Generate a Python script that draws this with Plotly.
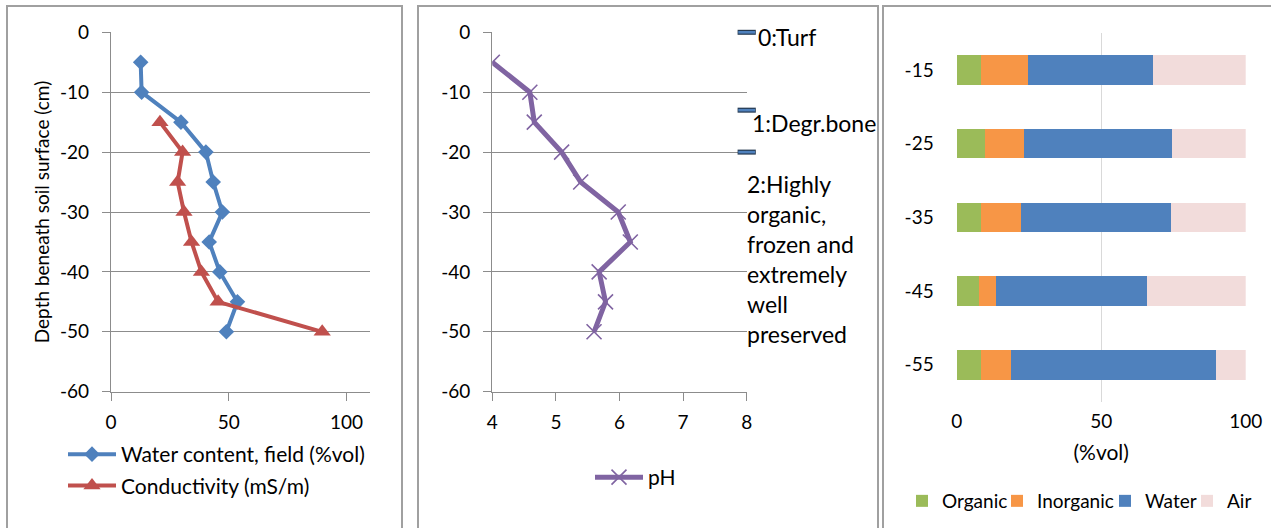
import plotly.graph_objects as go

W, H = 1271, 528

# ---- soil profile data ----
depth = [-5, -10, -15, -20, -25, -30, -35, -40, -45, -50]
water_content = [12.6, 13.0, 29.7, 40.3, 43.4, 47.3, 41.7, 46.2, 53.7, 49.0]
cond_depth = [-15, -20, -25, -30, -35, -40, -45, -50]
conductivity = [20.8, 30.4, 28.3, 31.0, 34.2, 38.4, 45.5, 89.7]
ph = [4.0, 4.59, 4.66, 5.09, 5.39, 5.98, 6.17, 5.68, 5.78, 5.60]

layer_depths = [0, -13, -20]
layer_x = [8, 8, 8]
layer_labels = ["0:Turf", "1:Degr.bone",
                "2:Highly<br>organic,<br>frozen and<br>extremely<br>well<br>preserved"]

comp_depths = ["-15", "-25", "-35", "-45", "-55"]
organic = [8.3, 9.9, 8.5, 7.6, 8.5]
inorganic = [16.5, 13.4, 13.6, 6.0, 10.2]
water = [43.2, 51.3, 52.1, 52.4, 70.9]
air = [32.0, 25.4, 25.8, 34.0, 10.4]

depth_ticks = [0, -10, -20, -30, -40, -50, -60]
depth_ticktext = ["0", "-10", "-20", "-30", "-40", "-50", "-60"]

FONT = "Lato, Carlito, Calibri, sans-serif"
FS = 19
FS_BIG = 21
GRID = "#8C8C8C"
BLUE, RED, PURPLE = "#4F81BD", "#C0504D", "#8064A2"


def px_x(p):
    return p / W


def px_y(p):
    return 1 - p / H


fig = go.Figure()

# Panel 1: water content and conductivity
fig.add_trace(go.Scatter(
    x=water_content, y=depth, mode="lines+markers", name="Water content, field (%vol)",
    line=dict(color=BLUE, width=4), marker=dict(symbol="diamond", size=12, color=BLUE),
    xaxis="x", yaxis="y", legend="legend", legendgroup="wc"))
fig.add_trace(go.Scatter(
    x=conductivity, y=cond_depth, mode="lines+markers", name="Conductivity (mS/m)",
    line=dict(color=RED, width=4), marker=dict(symbol="triangle-up", size=15, color=RED),
    xaxis="x", yaxis="y", legend="legend", legendgroup="ec"))

# Panel 2: pH
fig.add_trace(go.Scatter(
    x=ph, y=depth, mode="lines+markers", name="pH",
    line=dict(color=PURPLE, width=5),
    marker=dict(symbol="x-thin", size=15, color=PURPLE, line=dict(color=PURPLE, width=1.6)),
    xaxis="x2", yaxis="y2", legend="legend2"))

# layer boundaries drawn as short bars on the right edge of the pH panel
fig.add_trace(go.Scatter(
    x=layer_x, y=layer_depths, mode="markers", showlegend=False, cliponaxis=False,
    marker=dict(symbol="line-ew", size=13, line=dict(color="#24384F", width=5)),
    xaxis="x2", yaxis="y2", hoverinfo="skip"))
fig.add_trace(go.Scatter(
    x=layer_x, y=layer_depths, mode="markers", showlegend=False, cliponaxis=False,
    marker=dict(symbol="line-ew", size=12, line=dict(color=BLUE, width=2.6)),
    xaxis="x2", yaxis="y2", hoverinfo="skip"))

# Panel 3: volumetric composition, one legend box per component
components = [("Organic", organic, "#9BBB59", "legend3"),
              ("Inorganic", inorganic, "#F79646", "legend4"),
              ("Water", water, BLUE, "legend5"),
              ("Air", air, "#F2DCDB", "legend6")]
for name, vals, col, leg in components:
    fig.add_trace(go.Bar(
        x=vals, y=comp_depths, orientation="h", name=name,
        marker=dict(color=col, line=dict(width=0)),
        xaxis="x3", yaxis="y3", legend=leg))

ydom = [px_y(391.7), px_y(32.3)]
tickfont = dict(family=FONT, size=FS, color="#000000")

axis_common = dict(showline=True, linecolor=GRID, linewidth=1.3, ticks="outside",
                   ticklen=8, tickcolor=GRID, tickwidth=1.3, tickfont=tickfont,
                   zeroline=False, fixedrange=True)

legend_common = dict(xanchor="left", yanchor="top", orientation="h",
                     font=dict(family=FONT, size=FS), bgcolor="rgba(0,0,0,0)")

fig.update_layout(
    width=W, height=H, margin=dict(l=0, r=0, t=0, b=0, autoexpand=False),
    paper_bgcolor="white", plot_bgcolor="rgba(0,0,0,0)",
    font=dict(family=FONT, size=FS, color="#000000"),
    barmode="stack", bargap=0.6,
    xaxis=dict(domain=[px_x(111), px_x(370)], range=[0, 110], tickvals=[0, 50, 100],
               showgrid=False, anchor="y", ticklabelstandoff=5, **axis_common),
    yaxis=dict(domain=ydom, range=[-60, 0], tickvals=depth_ticks, ticktext=depth_ticktext,
               showgrid=True, gridcolor=GRID, gridwidth=1.3, anchor="x",
               ticklabelstandoff=9,
               title=dict(text="Depth beneath soil surface (cm)", standoff=5,
                          font=dict(family=FONT, size=FS)),
               **axis_common),
    xaxis2=dict(domain=[px_x(492.3), px_x(746.7)], range=[4, 8], dtick=1,
                showgrid=False, anchor="y2", ticklabelstandoff=5, **axis_common),
    yaxis2=dict(domain=ydom, range=[-60, 0], tickvals=depth_ticks, ticktext=depth_ticktext,
                showgrid=True, gridcolor=GRID, gridwidth=1.3, anchor="x2",
                ticklabelstandoff=9, **axis_common),
    xaxis3=dict(domain=[px_x(956.7), px_x(1245.7)], range=[0, 100], tickvals=[0, 50, 100],
                showgrid=True, gridcolor="#D9D9D9", gridwidth=1.3, showline=False,
                zeroline=False, ticks="", tickfont=tickfont, anchor="y3",
                ticklabelstandoff=6, fixedrange=True,
                title=dict(text="(%vol)", standoff=14, font=dict(family=FONT, size=21))),
    yaxis3=dict(domain=[px_y(401.7), px_y(33)], categoryorder="array",
                categoryarray=comp_depths, autorange="reversed", showline=False,
                showgrid=False, ticks="", tickfont=tickfont, anchor="x3",
                ticklabelstandoff=22, fixedrange=True),
    legend=dict(x=px_x(63), y=px_y(434), xanchor="left", yanchor="top",
                orientation="v", font=dict(family=FONT, size=FS_BIG),
                bgcolor="rgba(0,0,0,0)", tracegroupgap=1, itemwidth=48),
    legend2=dict(x=px_x(590), y=px_y(457), xanchor="left", yanchor="top",
                 orientation="h", font=dict(family=FONT, size=FS_BIG),
                 bgcolor="rgba(0,0,0,0)", itemwidth=48),
    legend3=dict(x=px_x(902), y=px_y(482), **legend_common),
    legend4=dict(x=px_x(997), y=px_y(482), **legend_common),
    legend5=dict(x=px_x(1105), y=px_y(482), **legend_common),
    legend6=dict(x=px_x(1187), y=px_y(482), **legend_common),
    showlegend=True,
)

# panel frames
for x0, x1 in [(7, 402), (418, 878), (883, 1290)]:
    fig.add_shape(type="rect", xref="paper", yref="paper",
                  x0=px_x(x0), x1=px_x(x1), y0=px_y(560), y1=px_y(6),
                  line=dict(color="#A0A0A0", width=2), fillcolor="rgba(0,0,0,0)",
                  layer="below")

label_shift = [(9, 11), (3, 3), (-2, -16)]
for xv, d, txt, (dx, dy) in zip(layer_x, layer_depths, layer_labels, label_shift):
    fig.add_annotation(x=xv, y=d, xref="x2", yref="y2", text=txt, showarrow=False,
                       xanchor="left", yanchor="top", align="left",
                       xshift=dx, yshift=dy,
                       font=dict(family=FONT, size=23, color="#000000"))

fig.write_html("out.html")
